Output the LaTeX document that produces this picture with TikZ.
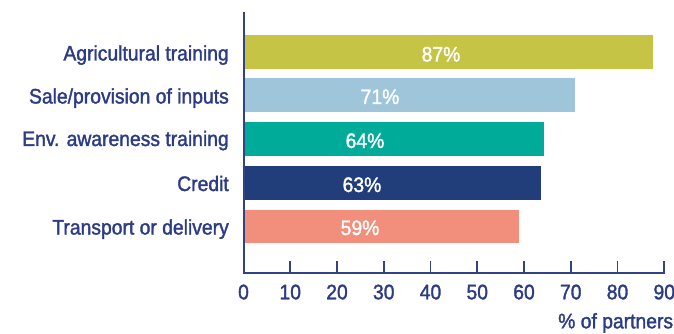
\documentclass[tikz,border=0pt]{standalone}
\usepackage{fontspec}
\setmainfont[FakeStretch=0.92,FakeBold=1.6]{Liberation Sans}
\definecolor{cOlive}{RGB}{197,196,68}
\definecolor{cLight}{RGB}{158,197,217}
\definecolor{cTeal}{RGB}{0,171,153}
\definecolor{cNavy}{RGB}{33,62,122}
\definecolor{cSalmon}{RGB}{242,142,124}
\definecolor{cText}{RGB}{43,59,134}
\definecolor{cAxis}{RGB}{50,66,130}
\begin{document}
\begin{tikzpicture}[x=1pt,y=-1pt,
  catlabel/.style={anchor=base east,text=cText,font=\fontsize{21}{21}\selectfont,inner sep=0pt},
  pctlabel/.style={anchor=base,text=white,font=\fontsize{21}{21}\selectfont,inner sep=0pt},
  ticklabel/.style={anchor=base,text=cText,font=\fontsize{21}{21}\selectfont,inner sep=0pt},
  axisline/.style={draw=cAxis,line width=2pt},
  tickline/.style={draw=cAxis,line width=1.8pt}]
\useasboundingbox (0,0) rectangle (674,334);
% bars
\fill[cOlive]  (243.5,35)  rectangle (652.5,69);
\fill[cLight]  (243.5,78)  rectangle (574.5,112);
\fill[cTeal]   (243.5,122) rectangle (543.5,156);
\fill[cNavy]   (243.5,166) rectangle (540.5,200);
\fill[cSalmon] (243.5,210) rectangle (518.5,243);
% axes
\draw[axisline] (243.5,12) -- (243.5,273) -- (665,273);
\foreach \k in {1,...,9}{
  \draw[tickline] ({243.5+46.75*\k},273) -- ({243.5+46.75*\k},261);
}
\foreach \k in {0,...,9}{
  \node[ticklabel] (t\k) at ({243.5+46.75*\k},299.3) {\the\numexpr\k*10\relax};
}
\node[ticklabel,anchor=base east] (xlab) at (673.3,328.3) {\% of partners};
% category labels
\node[catlabel] (c1) at (229,60.5) {Agricultural training};
\node[catlabel] (c2) at (229,103.5) {Sale/provision of inputs};
\node[catlabel] (c3) at (229,146) {Env. awareness training};
\node[catlabel] (c4) at (229,191) {Credit};
\node[catlabel] (c5) at (229,234.5) {Transport or delivery};
% value labels
\node[pctlabel] (v1) at (441,61.5) {87\%};
\node[pctlabel] (v2) at (380,104) {71\%};
\node[pctlabel] (v3) at (365,148) {64\%};
\node[pctlabel] (v4) at (362,192) {63\%};
\node[pctlabel] (v5) at (360,235) {59\%};
\end{tikzpicture}
\end{document}
